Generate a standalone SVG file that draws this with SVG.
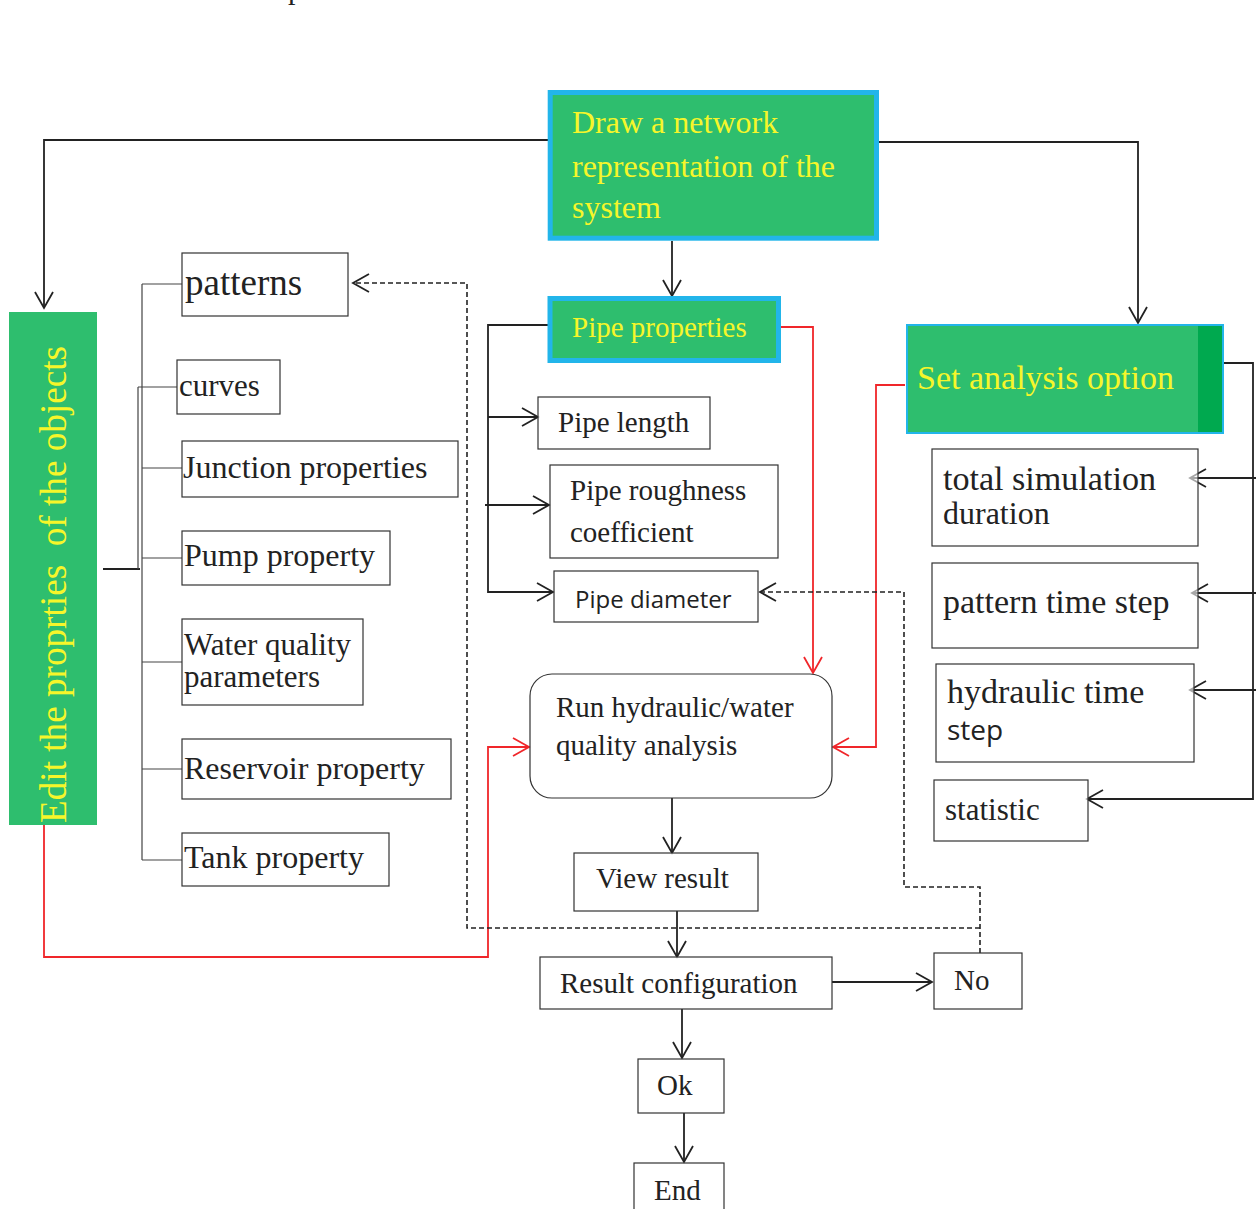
<svg xmlns="http://www.w3.org/2000/svg" width="1256" height="1209" viewBox="0 0 1256 1209">
<style>
.serif{font-family:"Liberation Serif","Times New Roman",serif;fill:#222}
.sans{font-family:"Open Sans","DejaVu Sans",sans-serif;fill:#222}
.yel{font-family:"Liberation Serif","Times New Roman",serif;fill:#F6F62A}
.box{fill:#fff;fill-opacity:0.6;stroke:#333;stroke-width:1.2}
.green{fill:#2EBE6E}
.ln{fill:none;stroke:#222;stroke-width:1.8}
.thin{fill:none;stroke:#444;stroke-width:1.2}
.red{fill:none;stroke:#F0262A;stroke-width:1.8}
.dash{fill:none;stroke:#222;stroke-width:1.6;stroke-dasharray:5,3}
</style>
<defs>
<marker id="ah" markerWidth="20" markerHeight="22" refX="17" refY="11" orient="auto" markerUnits="userSpaceOnUse">
<path d="M1,2 L17,11 L1,20" fill="none" stroke="#222" stroke-width="1.8"/>
</marker>
<marker id="ahr" markerWidth="20" markerHeight="22" refX="17" refY="11" orient="auto" markerUnits="userSpaceOnUse">
<path d="M1,2 L17,11 L1,20" fill="none" stroke="#F0262A" stroke-width="1.8"/>
</marker>
</defs>
<rect width="1256" height="1209" fill="#fff"/>
<text class="serif" x="288" y="-1" font-size="30">p</text>

<g id="connectors">
<path class="ln" d="M548,140 H44 V308" marker-end="url(#ah)"/>
<path class="ln" d="M879,142 H1138 V323" marker-end="url(#ah)"/>
<path class="ln" d="M672,241 V296" marker-end="url(#ah)"/>
<path class="ln" d="M548,325 H488 V592 H553" marker-end="url(#ah)"/>
<path class="ln" d="M488,417 H538" marker-end="url(#ah)"/>
<path class="ln" d="M485,505 H549" marker-end="url(#ah)"/>
<path class="red" d="M781,327 H813 V673" marker-end="url(#ahr)"/>
<path class="red" d="M905,385 H876 V747 H833" marker-end="url(#ahr)"/>
<path class="red" d="M44,825 V957 H488 V747 H529" marker-end="url(#ahr)"/>
<path class="ln" d="M1224,363 H1253 V799 H1087" marker-end="url(#ah)"/>
<path class="ln" d="M1256,478 H1190" marker-end="url(#ah)"/>
<path class="ln" d="M1256,593 H1192" marker-end="url(#ah)"/>
<path class="ln" d="M1256,690 H1190" marker-end="url(#ah)"/>
<path class="ln" d="M672,798 V853" marker-end="url(#ah)"/>
<path class="ln" d="M677,911 V957" marker-end="url(#ah)"/>
<path class="ln" d="M832,982 H932" marker-end="url(#ah)"/>
<path class="ln" d="M682,1009 V1058" marker-end="url(#ah)"/>
<path class="ln" d="M684,1113 V1162" marker-end="url(#ah)"/>
<path class="dash" d="M980,953 V887 H904 V592 H760" marker-end="url(#ah)"/>
<path class="dash" d="M980,928 H467 V283 H353" marker-end="url(#ah)"/>
<path class="ln" d="M103,569 H140"/>
<path class="thin" d="M142,284 V860 M142,284 H182 M138,387 V569 M138,387 H177 M142,468 H182 M142,558 H182 M142,662 H182 M142,769 H182 M142,860 H182"/>
</g>

<g id="draw-network">
<rect class="green" x="550.2" y="92.5" width="326.3" height="145.7" stroke="#22B5EA" stroke-width="5"/>
<text class="yel" font-size="32"><tspan x="572" y="133">Draw a network</tspan><tspan x="572" y="177">representation of the</tspan><tspan x="572" y="218">system</tspan></text>
</g>

<g id="pipe-properties">
<rect class="green" x="550" y="298.5" width="228.5" height="62" stroke="#22B5EA" stroke-width="5"/>
<text class="yel" x="572" y="337" font-size="29">Pipe properties</text>
</g>

<g id="set-analysis">
<rect class="green" x="907" y="325" width="316" height="108" stroke="#22B5EA" stroke-width="2"/>
<rect x="1198" y="326" width="24" height="106" fill="#00A94F"/>
<text class="yel" x="917" y="389" font-size="34">Set analysis option</text>
</g>

<g id="edit-properties">
<rect class="green" x="9" y="312" width="88" height="513"/>
<text class="yel" transform="translate(66,823) rotate(-90)" font-size="37" textLength="477" lengthAdjust="spacingAndGlyphs" xml:space="preserve">Edit the proprties  of the objects</text>
</g>

<g id="patterns">
<rect class="box" x="182" y="253" width="166" height="63"/>
<text class="serif" x="185" y="295" font-size="37">patterns</text>
</g>
<g id="curves">
<rect class="box" x="177" y="360" width="103" height="54"/>
<text class="serif" x="179" y="396" font-size="31">curves</text>
</g>
<g id="junction">
<rect class="box" x="182" y="441" width="276" height="56"/>
<text class="serif" x="183" y="478" font-size="32">Junction properties</text>
</g>
<g id="pump">
<rect class="box" x="182" y="531" width="208" height="54"/>
<text class="serif" x="184" y="566" font-size="32">Pump property</text>
</g>
<g id="water-quality">
<rect class="box" x="182" y="619" width="181" height="86"/>
<text class="serif" font-size="31"><tspan x="184" y="655">Water quality</tspan><tspan x="184" y="687">parameters</tspan></text>
</g>
<g id="reservoir">
<rect class="box" x="182" y="739" width="269" height="60"/>
<text class="serif" x="184" y="779" font-size="32">Reservoir property</text>
</g>
<g id="tank">
<rect class="box" x="182" y="833" width="207" height="53"/>
<text class="serif" x="184" y="868" font-size="32">Tank property</text>
</g>

<g id="pipe-length">
<rect class="box" x="538" y="397" width="172" height="52"/>
<text class="serif" x="558" y="432" font-size="29">Pipe length</text>
</g>
<g id="pipe-roughness">
<rect class="box" x="550" y="465" width="228" height="93"/>
<text class="serif" font-size="29"><tspan x="570" y="500">Pipe roughness</tspan><tspan x="570" y="542">coefficient</tspan></text>
</g>
<g id="pipe-diameter">
<rect class="box" x="554" y="571" width="204" height="51"/>
<text class="sans" x="575" y="608" font-size="24">Pipe diameter</text>
</g>

<g id="run-analysis">
<rect class="box" x="530" y="674" width="302" height="124" rx="22"/>
<text class="serif" font-size="29"><tspan x="556" y="717">Run hydraulic/water</tspan><tspan x="556" y="755">quality analysis</tspan></text>
</g>
<g id="view-result">
<rect class="box" x="574" y="853" width="184" height="58"/>
<text class="serif" x="596" y="888" font-size="29">View result</text>
</g>
<g id="result-config">
<rect class="box" x="540" y="957" width="292" height="52"/>
<text class="serif" x="560" y="993" font-size="29">Result configuration</text>
</g>
<g id="no">
<rect class="box" x="934" y="953" width="88" height="56"/>
<text class="serif" x="954" y="990" font-size="29">No</text>
</g>
<g id="ok">
<rect class="box" x="638" y="1059" width="86" height="54"/>
<text class="serif" x="657" y="1095" font-size="29">Ok</text>
</g>
<g id="end">
<rect class="box" x="634" y="1163" width="90" height="60"/>
<text class="serif" x="654" y="1200" font-size="29">End</text>
</g>

<g id="total-sim">
<rect class="box" x="932" y="449" width="266" height="97"/>
<text class="serif" x="943" y="490" font-size="33" textLength="213" lengthAdjust="spacingAndGlyphs">total simulation</text>
<text class="serif" x="943" y="524" font-size="32">duration</text>
</g>
<g id="pattern-step">
<rect class="box" x="932" y="563" width="266" height="85"/>
<text class="serif" x="943" y="613" font-size="34">pattern time step</text>
</g>
<g id="hydraulic-step">
<rect class="box" x="936" y="664" width="258" height="98"/>
<text class="serif" x="947" y="703" font-size="34">hydraulic time</text>
<text class="sans" x="947" y="740" font-size="28">step</text>
</g>
<g id="statistic">
<rect class="box" x="934" y="780" width="154" height="61"/>
<text class="serif" x="945" y="820" font-size="31">statistic</text>
</g>
</svg>
